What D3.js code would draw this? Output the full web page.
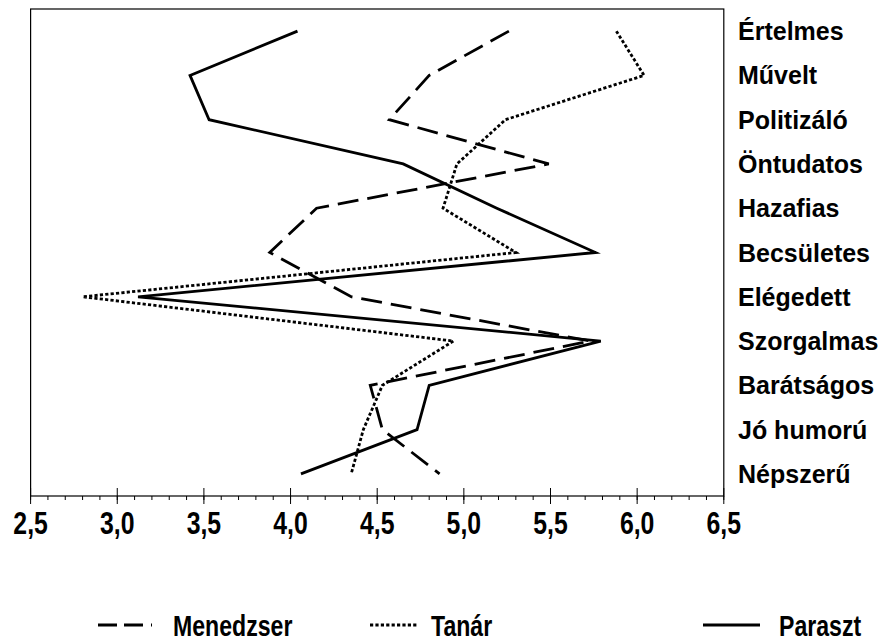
<!DOCTYPE html>
<html>
<head>
<meta charset="utf-8">
<script src="https://cdn.jsdelivr.net/npm/d3@7"></script>
<style>
  body { margin: 0; background: #fff; }
  text { font-family: "Liberation Sans", Arial, sans-serif; font-weight: bold; fill: #000; }
</style>
</head>
<body>
<div id="chart"></div>
<script>
var categories = ["Értelmes", "Művelt", "Politizáló", "Öntudatos", "Hazafias", "Becsületes",
                  "Elégedett", "Szorgalmas", "Barátságos", "Jó humorú", "Népszerű"];
var menedzser = [5.26, 4.80, 4.57, 5.49, 4.15, 3.88, 4.35, 5.73, 4.46, 4.53, 4.86];
var tanar     = [5.88, 6.04, 5.24, 4.96, 4.88, 5.30, 2.80, 4.94, 4.53, 4.42, 4.35];
var paraszt   = [4.04, 3.42, 3.53, 4.65, 5.19, 5.76, 3.12, 5.79, 4.80, 4.73, 4.06];
var tickValues = [2.5, 3.0, 3.5, 4.0, 4.5, 5.0, 5.5, 6.0, 6.5];
var seriesNames = ["Menedzser", "Tanár", "Paraszt"];

var width = 889, height = 644;
var plotLeft = 30.6, plotRight = 723.8, plotTop = 9, plotBottom = 496;

var svg = d3.select("#chart").append("svg")
            .attr("width", width)
            .attr("height", height);

var x = d3.scaleLinear().domain([2.5, 6.5]).range([plotLeft, plotRight]);
var y = d3.scalePoint().domain(categories).range([plotTop, plotBottom]).padding(0.5);

// narrow bold look: squeeze text horizontally
function narrow(sel, factor) {
  sel.each(function() {
    var len = this.getComputedTextLength();
    d3.select(this).attr("textLength", len * factor).attr("lengthAdjust", "spacingAndGlyphs");
  });
}

// frame
svg.append("rect")
   .attr("x", plotLeft).attr("y", plotTop)
   .attr("width", plotRight - plotLeft).attr("height", plotBottom - plotTop)
   .attr("fill", "none")
   .attr("stroke", "#000")
   .attr("stroke-width", 1.2);

// minor ticks every 0.1
svg.append("g").selectAll("line")
   .data(d3.range(25, 66).map(function(d) { return d / 10; }))
   .enter()
   .append("line")
     .attr("x1", function(d) { return x(d); })
     .attr("x2", function(d) { return x(d); })
     .attr("y1", plotBottom)
     .attr("y2", plotBottom + 4)
     .attr("stroke", "#000");

// major ticks
svg.append("g").selectAll("line")
   .data(tickValues)
   .enter()
   .append("line")
     .attr("x1", function(d) { return x(d); })
     .attr("x2", function(d) { return x(d); })
     .attr("y1", plotBottom - 8)
     .attr("y2", plotBottom + 8)
     .attr("stroke", "#000");

svg.append("g").selectAll("text")
   .data(tickValues)
   .enter()
   .append("text")
     .attr("x", function(d) { return x(d); })
     .attr("y", 534)
     .attr("text-anchor", "middle")
     .style("font-size", "31px")
     .text(function(d) { return d3.format(".1f")(d).replace(".", ","); })
     .call(narrow, 0.8);

// category labels on the right
svg.append("g").selectAll("text")
   .data(categories)
   .enter()
   .append("text")
     .attr("x", 738)
     .attr("y", function(d) { return y(d); })
     .attr("dy", "0.36em")
     .style("font-size", "25px")
     .text(function(d) { return d; });

// lines
var styles = [
  {values: menedzser, dash: "21,9"},
  {values: tanar, dash: "3.2,2.2"},
  {values: paraszt, dash: null}
];

var line = d3.line()
  .x(function(d) { return x(d.v); })
  .y(function(d) { return y(d.c); });

styles.forEach(function(s) {
  var pts = categories.map(function(c, i) { return {c: c, v: s.values[i]}; });
  svg.append("path")
     .attr("d", line(pts))
     .attr("fill", "none")
     .attr("stroke", "#000")
     .attr("stroke-width", 2.8)
     .attr("stroke-dasharray", s.dash);
});

// legend
var legendY = 625;
var legend = [
  {x1: 98, x2: 152, tx: 173, dash: "19,7,19,8,3,40"},
  {x1: 370, x2: 418, tx: 431, dash: "3.2,2.2"},
  {x1: 703, x2: 760, tx: 779, dash: null}
];

legend.forEach(function(l, i) {
  svg.append("line")
     .attr("x1", l.x1).attr("x2", l.x2)
     .attr("y1", legendY).attr("y2", legendY)
     .attr("stroke", "#000")
     .attr("stroke-width", 2.8)
     .attr("stroke-dasharray", l.dash);
  svg.append("text")
     .attr("x", l.tx)
     .attr("y", legendY + 11)
     .style("font-size", "30px")
     .text(seriesNames[i])
     .call(narrow, 0.77);
});
</script>
</body>
</html>
